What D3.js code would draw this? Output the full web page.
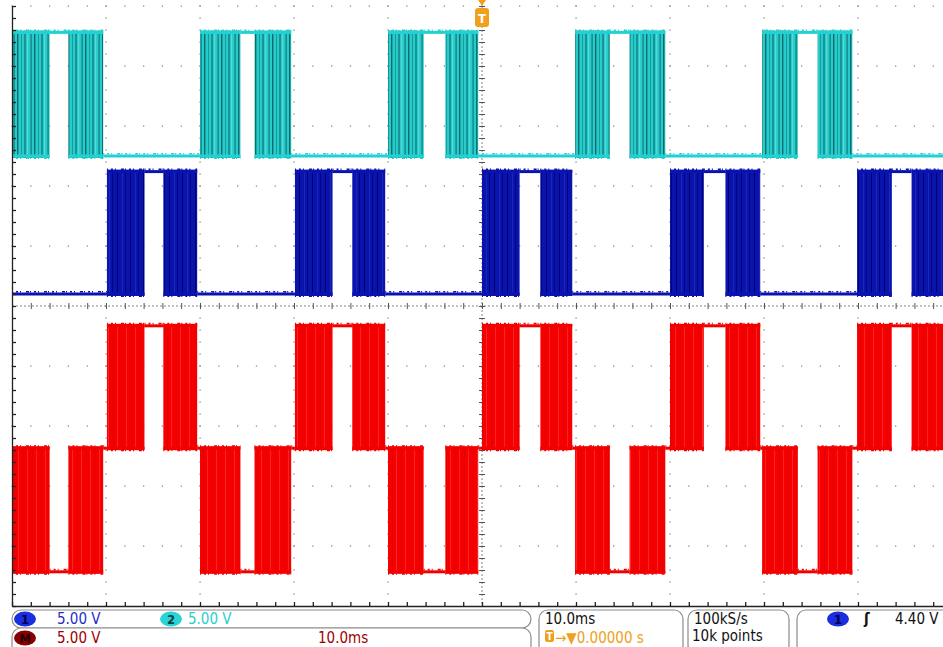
<!DOCTYPE html>
<html>
<head>
<meta charset="utf-8">
<script src="https://cdn.jsdelivr.net/npm/d3@7/dist/d3.min.js"></script>
<style>
  body { margin: 0; background: #fff; }
  svg { display: block; font-family: "DejaVu Sans Condensed", "DejaVu Sans", sans-serif; }
</style>
</head>
<body>
<div id="chart"></div>
<script>
// time in ms relative to trigger, 10 ms/div, 10 divisions
const timeDomain = [-50, 50];
const timePerDiv = 10;

// PWM bursts: [burstStart, burstEnd, gapStart, gapEnd] (ms)
// inside the gap the output stays high
const ch2Bursts = [
  [-50.0, -40.3, -46.0, -44.0],
  [-30.0, -20.3, -25.7, -24.2],
  [-10.0, -0.4, -6.2, -3.9],
  [9.9, 19.5, 13.6, 15.7],
  [29.8, 39.4, 33.6, 35.7]
];
const ch1Bursts = [
  [-39.9, -30.3, -35.9, -33.9],
  [-19.9, -10.3, -15.9, -13.8],
  [0.0, 9.6, 4.0, 6.2],
  [20.0, 29.6, 23.6, 25.9],
  [39.9, 49.6, 43.6, 45.7]
];

// logic levels in volts [low, high]
const ch1Levels = [0, 10.2];
const ch2Levels = [0, 10.3];

// vertical settings: volts/div and position (divisions from centre)
const channelNames = ["ch1", "ch2", "math"];
const voltsPerDiv = [5.00, 5.00, 5.00];
const positionDiv = [0.2, 2.5, -2.37];

// readout texts
const readoutRow1 = ["5.00 V", "5.00 V"];
const readoutRow2 = ["5.00 V", "10.0ms"];
const timebaseText = ["10.0ms", "\u2192\u25BC0.00000 s"];
const acqText = ["100kS/s", "10k points"];
const triggerText = "4.40 V";

const W = 943, H = 647;
const plot = { left: 12, top: 6, right: 952, bottom: 606 };

const svg = d3.select("#chart")
  .append("svg")
  .attr("width", W)
  .attr("height", H)
  .attr("viewBox", `0 0 ${W} ${H}`);

const x = d3.scaleLinear().domain(timeDomain).range([plot.left, plot.right]);
const yDiv = d3.scaleLinear().domain([-5, 5]).range([plot.bottom, plot.top]);

// stripe patterns for the dense PWM bands
const defs = svg.append("defs");
function stripes(id, w, base, lines) {
  const p = defs.append("pattern")
    .attr("id", id)
    .attr("patternUnits", "userSpaceOnUse")
    .attr("width", w)
    .attr("height", 10);
  p.append("rect").attr("width", w).attr("height", 10).attr("fill", base);
  lines.forEach(l => {
    p.append("rect").attr("x", l[0]).attr("width", l[1]).attr("height", 10).attr("fill", l[2]);
  });
}
stripes("pat-ch2", 17, "#26cccc", [[0, 1.4, "#0c6b6b"], [4, 0.8, "#12908f"], [7.5, 1, "#0a5c5c"], [10.5, 0.6, "#7fe6e6"], [13.5, 1.2, "#127a7a"]]);
stripes("pat-ch1", 13, "#0a14ad", [[0, 1, "#00006e"], [5, 0.6, "#2233c8"], [8, 0.8, "#000078"]]);
stripes("pat-math", 9, "#f40000", [[0, 0.6, "#ff3b3b"], [5, 0.5, "#dd0000"]]);

const colors = {
  ch1: { line: "#0a12b0", fill: "url(#pat-ch1)" },
  ch2: { line: "#22d2d2", fill: "url(#pat-ch2)" },
  math: { line: "#f20000", fill: "url(#pat-math)" }
};

// ---------- graticule ----------
const grid = svg.append("g").attr("class", "graticule");
const minorX = d3.range(timeDomain[0], timeDomain[1] + 0.001, timePerDiv / 5);
const minorY = d3.range(-5, 5.001, 0.2);
const majorX = d3.range(timeDomain[0] + timePerDiv, timeDomain[1], timePerDiv).filter(t => t !== 0);
const majorY = d3.range(-4, 5.001, 1).filter(d => d !== 0);

majorX.forEach(t => {
  grid.selectAll(null).data(minorY).enter().append("rect")
    .attr("x", x(t) - 0.6).attr("y", d => yDiv(d) - 0.6)
    .attr("width", 1.3).attr("height", 1.3).attr("fill", "#8a8a8a");
});
majorY.forEach(v => {
  grid.selectAll(null).data(minorX).enter().append("rect")
    .attr("x", d => x(d) - 0.6).attr("y", yDiv(v) - 0.6)
    .attr("width", 1.3).attr("height", 1.3).attr("fill", "#8a8a8a");
});

// centre cross: dashed with minor ticks
grid.append("line")
  .attr("x1", plot.left).attr("x2", plot.right)
  .attr("y1", yDiv(0)).attr("y2", yDiv(0))
  .attr("stroke", "#666").attr("stroke-width", 0.8).attr("stroke-dasharray", "2,2");
grid.append("line")
  .attr("x1", x(0)).attr("x2", x(0))
  .attr("y1", plot.top).attr("y2", plot.bottom)
  .attr("stroke", "#666").attr("stroke-width", 0.8).attr("stroke-dasharray", "2,2");
grid.append("g")
  .attr("transform", `translate(0,${yDiv(0) + 3})`)
  .call(d3.axisTop(x).tickValues(minorX).tickSize(6).tickFormat(""))
  .call(g => g.select(".domain").remove())
  .call(g => g.selectAll("line").attr("stroke", "#555"));
grid.append("g")
  .attr("transform", `translate(${x(0) - 3},0)`)
  .call(d3.axisRight(yDiv).tickValues(minorY).tickSize(6).tickFormat(""))
  .call(g => g.select(".domain").remove())
  .call(g => g.selectAll("line").attr("stroke", "#555"));

// ---------- traces ----------
function stateRange(bursts, levels, t) {
  for (const b of bursts) {
    if (t >= b[0] && t < b[1]) {
      if (t >= b[2] && t < b[3]) return [levels[1], levels[1]];
      return [levels[0], levels[1]];
    }
  }
  return [levels[0], levels[0]];
}

const breaks = Array.from(new Set([timeDomain[0], timeDomain[1]]
  .concat(ch1Bursts.flat(), ch2Bursts.flat())))
  .filter(t => t >= timeDomain[0] && t <= timeDomain[1])
  .sort((a, b) => a - b);

function intervals(fn) {
  const out = [];
  for (let i = 0; i < breaks.length - 1; i++) {
    const mid = (breaks[i] + breaks[i + 1]) / 2;
    const r = fn(mid);
    const last = out[out.length - 1];
    if (last && last.lo === r[0] && last.hi === r[1]) last.t1 = breaks[i + 1];
    else out.push({ t0: breaks[i], t1: breaks[i + 1], lo: r[0], hi: r[1] });
  }
  return out;
}

const traces = {
  ch1: intervals(t => stateRange(ch1Bursts, ch1Levels, t)),
  ch2: intervals(t => stateRange(ch2Bursts, ch2Levels, t)),
  // M = CH1 - CH2
  math: intervals(t => {
    const a = stateRange(ch1Bursts, ch1Levels, t);
    const b = stateRange(ch2Bursts, ch2Levels, t);
    return [a[0] - b[1], a[1] - b[0]];
  })
};

const traceLayer = svg.append("g").attr("class", "traces");
["math", "ch1", "ch2"].forEach(name => {
  const k = channelNames.indexOf(name);
  const y = v => yDiv(positionDiv[k] + v / voltsPerDiv[k]);
  const g = traceLayer.append("g").attr("class", name);
  const c = colors[name];
  const data = traces[name];

  g.selectAll("rect.band")
    .data(data.filter(d => d.lo !== d.hi))
    .enter().append("rect")
    .attr("class", "band")
    .attr("x", d => x(d.t0))
    .attr("width", d => x(d.t1) - x(d.t0))
    .attr("y", d => y(d.hi) - 2)
    .attr("height", d => y(d.lo) - y(d.hi) + 4)
    .attr("fill", c.fill);

  // flat parts and band edges, drawn twice for a ragged noisy look
  const edges = [];
  data.forEach(d => {
    edges.push({ t0: d.t0, t1: d.t1, v: d.hi, side: -1 });
    if (d.lo !== d.hi) edges.push({ t0: d.t0, t1: d.t1, v: d.lo, side: 1 });
  });
  g.selectAll("line.edge")
    .data(edges)
    .enter().append("line")
    .attr("class", "edge")
    .attr("x1", d => x(d.t0)).attr("x2", d => x(d.t1))
    .attr("y1", d => y(d.v)).attr("y2", d => y(d.v))
    .attr("stroke", c.line).attr("stroke-width", 3);
  g.selectAll("line.rag")
    .data(edges)
    .enter().append("line")
    .attr("class", "rag")
    .attr("x1", d => x(d.t0)).attr("x2", d => x(d.t1))
    .attr("y1", d => y(d.v) + 2.2 * d.side).attr("y2", d => y(d.v) + 2.2 * d.side)
    .attr("stroke", c.line).attr("stroke-width", 1.6)
    .attr("stroke-dasharray", "1,3,2,2,1,5,3,1");
});

// ---------- frame ----------
const frame = svg.append("g").attr("class", "frame");
frame.append("g")
  .attr("transform", `translate(0,${plot.bottom})`)
  .call(d3.axisTop(x).tickValues(minorX).tickSize(4).tickFormat("").tickSizeOuter(0))
  .call(g => g.selectAll("line,path").attr("stroke", "#222").attr("stroke-width", 1.3));
frame.append("g")
  .attr("transform", `translate(${plot.left},0)`)
  .call(d3.axisRight(yDiv).tickValues(minorY).tickSize(4).tickFormat("").tickSizeOuter(0))
  .call(g => g.selectAll("line,path").attr("stroke", "#222").attr("stroke-width", 1.3));

// trigger position marker
const trig = svg.append("g").attr("transform", `translate(${x(0)},0)`);
trig.append("path").attr("d", "M-4,0 L4,0 L0,6 Z").attr("fill", "#f0a020");
trig.append("rect").attr("x", -7).attr("y", 8).attr("width", 14).attr("height", 19)
  .attr("rx", 3).attr("fill", "#f0a020");
trig.append("text").attr("y", 23).attr("text-anchor", "middle")
  .attr("fill", "#fff").attr("font-size", 13).attr("font-weight", "bold").text("T");

// ---------- readout bar ----------
const bar = svg.append("g").attr("class", "readout");
const box = (x0, y0, w, h) => bar.append("rect")
  .attr("x", x0).attr("y", y0).attr("width", w).attr("height", h)
  .attr("rx", 9).attr("fill", "#fff").attr("stroke", "#8c8c8c").attr("stroke-width", 1.2);
box(12, 610, 519, 18);
box(12, 628, 519, 26);
box(539, 610, 144, 44);
box(688, 610, 101, 44);
box(797, 610, 160, 44);

function badge(cx, cy, fill, label, ink) {
  bar.append("ellipse").attr("cx", cx).attr("cy", cy).attr("rx", 11).attr("ry", 7.5).attr("fill", fill);
  bar.append("text").attr("x", cx).attr("y", cy + 5).attr("text-anchor", "middle")
    .attr("font-size", 13).attr("font-weight", "bold").attr("fill", ink).text(label);
}
const txt = (x0, y0, s, fill) => bar.append("text")
  .attr("x", x0).attr("y", y0).attr("font-size", 15).attr("fill", fill).text(s);

badge(25, 619, "#1a2ee0", "1", "#00004a");
txt(57, 624, readoutRow1[0], "#1f30c8");
badge(171, 619, "#2ad4d4", "2", "#004545");
txt(188, 624, readoutRow1[1], "#2ad0d0");

badge(25, 638, "#8a0000", "M", "#2a0000");
txt(57, 643, readoutRow2[0], "#a00000");
txt(318, 643, readoutRow2[1], "#a00000");

txt(545, 624, timebaseText[0], "#111");
bar.append("rect").attr("x", 545).attr("y", 630).attr("width", 9).attr("height", 12)
  .attr("rx", 2).attr("fill", "#f0a020");
bar.append("text").attr("x", 549.5).attr("y", 640).attr("text-anchor", "middle")
  .attr("font-size", 10).attr("font-weight", "bold").attr("fill", "#fff").text("T");
txt(555, 643, timebaseText[1], "#f0a020");

txt(694, 624, acqText[0], "#111");
txt(692, 641, acqText[1], "#111");

badge(838, 619, "#1a2ee0", "1", "#00004a");
txt(864, 624, "\u0283", "#111").attr("font-weight", "bold");
txt(895, 624, triggerText, "#111");
</script>
</body>
</html>
